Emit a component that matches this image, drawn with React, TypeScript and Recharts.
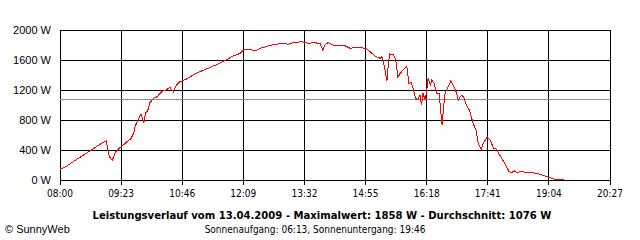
import {CartesianGrid, Line, LineChart, ReferenceLine, XAxis, YAxis} from "recharts";

// minutes after 08:00, power in W
const minutes = [
    0, 9, 20, 33, 43, 52, 59, 63, 65, 67, 71, 75, 80, 86, 92, 96, 100, 102, 106, 110,
    114, 116, 119, 122, 127, 132, 138, 144, 149, 154, 158, 163, 172, 181, 190, 204, 217, 226, 233, 245,
    249, 258, 265, 272, 283, 292, 303, 310, 317, 328, 337, 344, 353, 357, 360, 364, 371, 385, 394, 403,
    416, 421, 428, 435, 437, 439, 443, 444, 446, 448, 453, 456, 459, 462, 467, 471, 474, 477, 480, 483,
    486, 489, 491, 493, 496, 498, 500, 503, 505, 508, 512, 515, 517, 519, 521, 523, 527, 531, 534, 538,
    541, 543, 546, 549, 552, 556, 561, 565, 568, 572, 575, 580, 584, 589, 593, 598, 604, 610, 613, 618,
    620, 625, 636, 647, 659, 666, 672, 684,
];
const watts = [
    143, 185, 258, 340, 400, 462, 505, 525, 400, 311, 258, 370, 420, 467, 520, 545, 622, 711, 800, 880,
    764, 889, 920, 1030, 1089, 1110, 1178, 1200, 1236, 1178, 1267, 1311, 1347, 1400, 1444, 1502, 1556, 1600, 1644, 1689,
    1733, 1742, 1720, 1756, 1787, 1809, 1822, 1809, 1831, 1844, 1822, 1831, 1822, 1733, 1800, 1831, 1800, 1800, 1756, 1769,
    1756, 1711, 1653, 1622, 1644, 1591, 1378, 1320, 1556, 1680, 1667, 1600, 1370, 1422, 1476, 1520, 1289, 1298, 1209, 1089,
    1067, 1133, 1000, 1156, 1067, 1178, 1356, 1267, 1333, 1289, 1156, 1156, 933, 733, 978, 1156, 1244, 1324, 1267, 1178,
    1067, 1102, 1133, 1089, 1000, 933, 756, 667, 489, 409, 489, 569, 533, 422, 409, 320, 222, 111, 98, 124,
    98, 111, 102, 89, 53, 31, 9, 9,
];
const timeTicks = ["08:00", "09:23", "10:46", "12:09", "13:32", "14:55", "16:18", "17:41", "19:04", "20:27"];
const powerTicks = [0, 400, 800, 1200, 1600, 2000];
const average = 1076;

const data = minutes.map((t, i) => ({t, w: watts[i]}));
const toMin = (s: string) => {
    const [h, m] = s.split(":").map(Number);
    return h * 60 + m - 480;
};
const xTicks = timeTicks.map(toMin);
const fmtTime = (v: number) => {
    const m = v + 480;
    return `${String(Math.floor(m / 60)).padStart(2, "0")}:${String(m % 60).padStart(2, "0")}`;
};

const narrow = '"DejaVu Sans Condensed", "Liberation Sans", sans-serif';
const normal = '"Liberation Sans", Arial, sans-serif';

export default function App() {
    return (
        <div style={{position: "absolute", left: 0, top: 0, width: 640, height: 240, background: "#fff"}}>
            <style>{`.recharts-cartesian-grid line, .recharts-cartesian-axis line, .recharts-reference-line line, .recharts-line-curve { shape-rendering: crispEdges; }`}</style>
            <LineChart width={640} height={240} data={data} margin={{top: 30, right: 30, bottom: 0, left: 0}}>
                <CartesianGrid stroke="#000" strokeOpacity={1} />
                <XAxis
                    dataKey="t"
                    type="number"
                    domain={[0, 747]}
                    ticks={xTicks}
                    tickFormatter={fmtTime}
                    height={60}
                    tickSize={5}
                    tickMargin={5}
                    stroke="#000"
                    tick={{fill: "#000", fontSize: 10, fontFamily: narrow}}
                />
                <YAxis
                    domain={[0, 2000]}
                    ticks={powerTicks}
                    tickFormatter={(v: number) => `${v} W`}
                    width={60}
                    axisLine={false}
                    tickLine={false}
                    tickSize={6}
                    tickMargin={3}
                    tick={{fill: "#000", fontSize: 11, fontFamily: normal}}
                />
                <ReferenceLine y={average} stroke="#8c8c8c" />
                <Line
                    type="linear"
                    dataKey="w"
                    stroke="#ff0000"
                    strokeWidth={1}
                    dot={false}
                    isAnimationActive={false}
                />
            </LineChart>
            <div style={{position: "absolute", left: 0, width: 640, top: 209, textAlign: "center", fontFamily: narrow, fontWeight: "bold", fontSize: 11.2, lineHeight: "14px", paddingLeft: 4, boxSizing: "border-box"}}>
                Leistungsverlauf vom 13.04.2009 - Maximalwert: 1858 W - Durchschnitt: 1076 W
            </div>
            <div style={{position: "absolute", left: 0, width: 640, top: 223, textAlign: "center", fontFamily: narrow, fontSize: 10, lineHeight: "13px", paddingRight: 10, boxSizing: "border-box"}}>
                Sonnenaufgang: 06:13, Sonnenuntergang: 19:46
            </div>
            <div style={{position: "absolute", left: 5, top: 222, fontFamily: normal, fontSize: 11, lineHeight: "14px"}}>
                © SunnyWeb
            </div>
        </div>
    );
}
